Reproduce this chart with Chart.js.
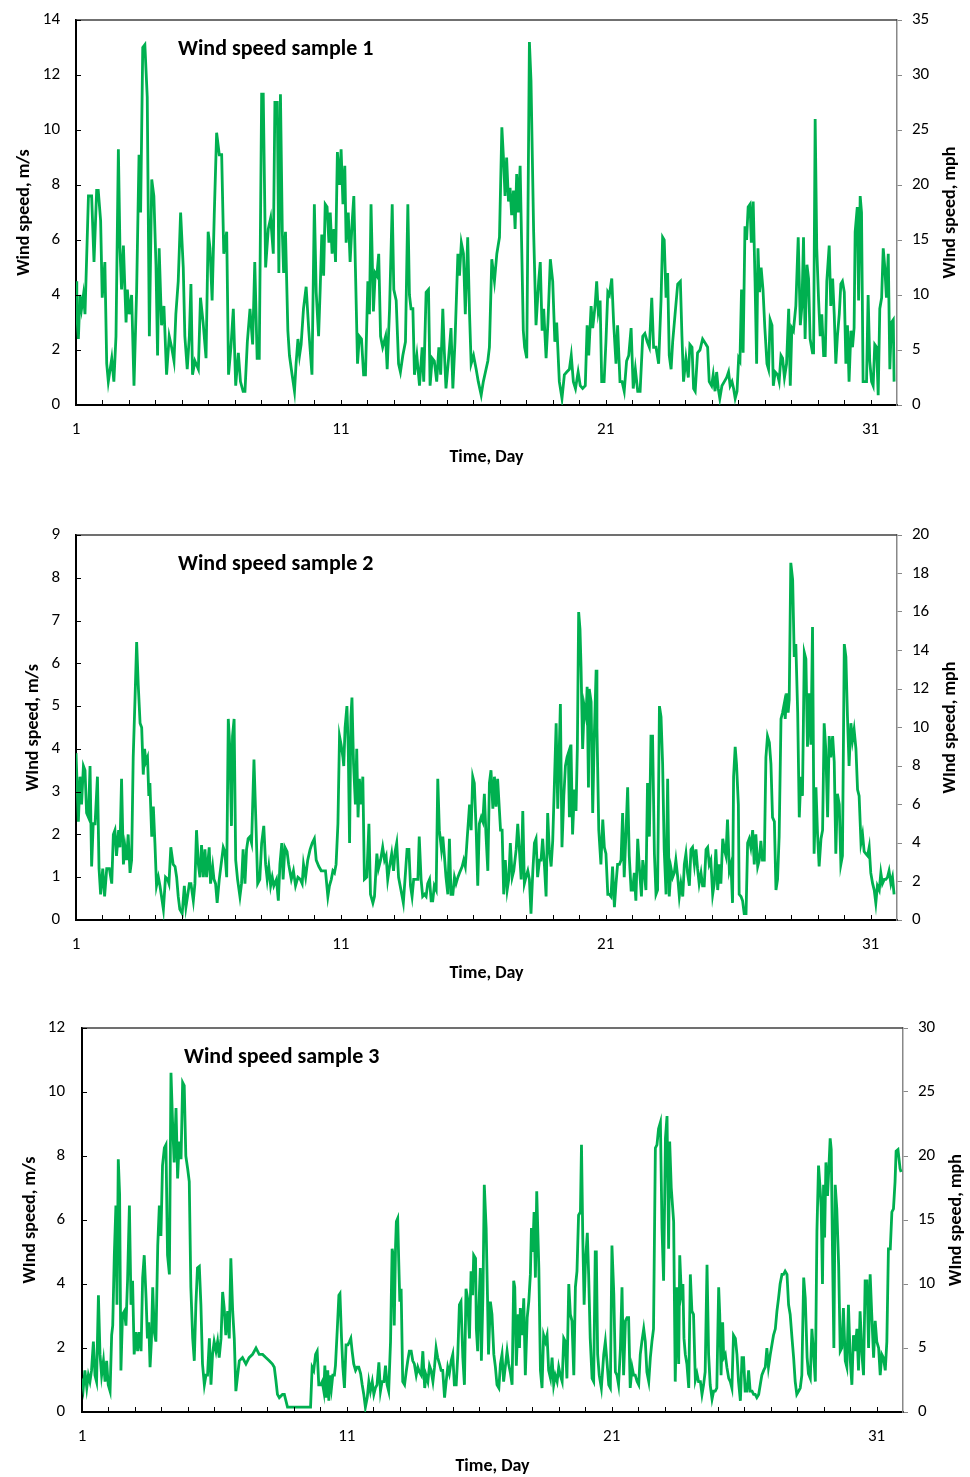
<!DOCTYPE html>
<html>
<head>
<meta charset="utf-8">
<script src="https://cdn.jsdelivr.net/npm/chart.js@4.4.1/dist/chart.umd.min.js"></script>
<style>
  body { margin: 0; background: #fff; width: 970px; height: 1477px; position: relative; overflow: hidden; }
  canvas { position: absolute; left: 0; }
</style>
</head>
<body>
<canvas id="c1" width="970" height="470" style="top:0px"></canvas>
<canvas id="c2" width="970" height="470" style="top:515px"></canvas>
<canvas id="c3" width="970" height="470" style="top:1007px"></canvas>
<script>
// labelled days on the time axis
const dayLabels = [1, 11, 21, 31];

// [day, wind speed m/s]
const sample1 = [[1.00,4.5],[1.03,3.3],[1.09,2.4],[1.15,4.0],[1.21,3.5],[1.28,4.0],[1.34,3.3],[1.47,7.6],[1.59,7.6],[1.68,5.2],[1.78,7.8],[1.84,7.8],[1.93,6.7],[1.99,3.9],[2.09,5.2],[2.16,1.5],[2.22,0.85],[2.35,1.7],[2.43,0.85],[2.51,2.5],[2.60,9.3],[2.66,5.7],[2.72,4.2],[2.79,5.8],[2.89,3.0],[2.94,4.2],[3.01,3.3],[3.10,4.0],[3.19,0.7],[3.29,4.2],[3.38,9.1],[3.44,7.0],[3.52,13.0],[3.60,13.1],[3.69,11.2],[3.77,2.5],[3.86,8.2],[3.94,7.6],[4.02,5.1],[4.08,1.8],[4.14,5.7],[4.23,2.9],[4.32,3.6],[4.42,1.1],[4.52,2.5],[4.61,2.1],[4.70,1.6],[4.77,3.3],[4.86,4.5],[4.95,7.0],[5.05,5.0],[5.11,2.5],[5.20,1.3],[5.28,2.5],[5.34,4.4],[5.40,1.1],[5.49,1.6],[5.62,1.3],[5.70,3.9],[5.80,3.0],[5.91,1.7],[5.99,6.3],[6.06,5.7],[6.14,3.8],[6.22,6.9],[6.31,9.9],[6.41,9.1],[6.50,9.1],[6.58,5.5],[6.69,6.3],[6.76,1.1],[6.85,2.1],[6.94,3.5],[7.03,0.7],[7.13,1.9],[7.21,0.85],[7.31,0.5],[7.38,0.5],[7.47,2.3],[7.57,3.5],[7.67,2.2],[7.75,5.2],[7.84,1.7],[7.92,1.7],[8.01,11.3],[8.07,11.3],[8.16,5.0],[8.26,6.4],[8.35,6.8],[8.45,5.5],[8.51,11.0],[8.60,11.0],[8.66,4.8],[8.72,11.3],[8.79,6.3],[8.84,4.8],[8.91,6.3],[9.00,2.7],[9.06,1.8],[9.16,1.1],[9.25,0.5],[9.31,1.5],[9.38,2.4],[9.44,1.8],[9.50,2.2],[9.59,3.5],[9.69,4.3],[9.79,2.7],[9.91,1.1],[10.00,7.3],[10.07,4.1],[10.16,2.5],[10.22,4.2],[10.28,6.2],[10.35,4.7],[10.41,7.3],[10.48,7.2],[10.55,5.9],[10.60,7.0],[10.67,5.5],[10.74,6.4],[10.80,5.2],[10.87,9.2],[10.95,8.0],[11.01,9.3],[11.08,7.3],[11.15,8.7],[11.20,5.9],[11.28,7.0],[11.35,5.2],[11.43,6.7],[11.49,7.6],[11.55,5.0],[11.63,1.5],[11.70,2.5],[11.78,2.4],[11.86,1.1],[11.93,1.1],[12.02,4.5],[12.08,3.3],[12.14,7.3],[12.23,3.4],[12.30,4.8],[12.36,4.7],[12.43,5.5],[12.50,2.5],[12.58,2.1],[12.69,2.5],[12.75,1.3],[12.84,3.5],[12.94,7.3],[13.00,4.2],[13.09,3.8],[13.18,1.5],[13.25,1.2],[13.34,1.8],[13.44,2.3],[13.53,7.3],[13.59,4.0],[13.65,3.5],[13.72,3.5],[13.78,1.1],[13.87,1.8],[13.97,0.7],[14.07,2.1],[14.13,0.85],[14.22,4.1],[14.31,4.2],[14.37,0.7],[14.45,1.7],[14.53,1.6],[14.62,0.85],[14.70,2.1],[14.77,1.1],[14.85,3.5],[14.91,1.9],[14.97,0.6],[15.06,1.6],[15.16,2.8],[15.23,0.6],[15.31,2.3],[15.42,5.5],[15.48,4.7],[15.55,5.9],[15.63,5.5],[15.70,3.3],[15.79,6.1],[15.86,3.3],[15.92,1.5],[16.01,1.8],[16.11,1.3],[16.19,0.85],[16.30,0.36],[16.38,0.85],[16.46,1.2],[16.55,1.6],[16.61,2.1],[16.70,5.3],[16.80,4.5],[16.89,5.5],[16.99,6.1],[17.08,10.1],[17.14,9.0],[17.20,7.6],[17.26,9.0],[17.33,7.4],[17.39,7.9],[17.45,6.9],[17.52,7.8],[17.58,6.4],[17.64,8.4],[17.70,7.0],[17.77,8.7],[17.83,5.7],[17.89,2.7],[17.94,2.1],[18.02,1.7],[18.12,13.2],[18.18,11.8],[18.28,6.3],[18.37,2.9],[18.47,4.5],[18.53,5.2],[18.60,2.7],[18.66,3.5],[18.75,1.7],[18.82,3.0],[18.91,5.3],[19.00,4.5],[19.08,2.3],[19.15,3.0],[19.25,0.85],[19.35,0.24],[19.44,1.1],[19.53,1.2],[19.63,1.3],[19.70,1.8],[19.78,0.85],[19.86,0.6],[19.96,1.2],[20.04,0.7],[20.13,0.6],[20.23,0.7],[20.30,2.9],[20.36,1.8],[20.45,3.6],[20.51,2.8],[20.60,3.6],[20.66,4.5],[20.72,3.4],[20.79,3.8],[20.85,0.85],[20.94,0.85],[21.01,2.3],[21.08,4.1],[21.14,4.0],[21.23,4.6],[21.30,3.0],[21.39,1.5],[21.45,2.9],[21.54,0.85],[21.62,0.85],[21.70,0.5],[21.79,1.6],[21.87,1.8],[21.96,2.8],[22.04,0.6],[22.12,1.3],[22.21,0.5],[22.30,0.5],[22.40,2.5],[22.48,2.6],[22.57,2.3],[22.65,2.1],[22.74,3.9],[22.81,2.1],[22.90,2.1],[23.00,1.5],[23.09,3.8],[23.15,6.1],[23.21,6.0],[23.28,3.9],[23.34,4.8],[23.40,1.8],[23.47,1.3],[23.53,2.3],[23.62,3.3],[23.72,4.4],[23.82,4.5],[23.88,2.5],[23.94,0.85],[24.03,1.7],[24.12,1.0],[24.18,2.2],[24.26,2.1],[24.32,0.6],[24.38,0.5],[24.47,1.9],[24.56,2.0],[24.66,2.4],[24.79,2.2],[24.85,2.1],[24.91,0.85],[25.00,0.7],[25.06,1.1],[25.13,0.5],[25.19,1.2],[25.25,0.6],[25.31,0.24],[25.39,0.7],[25.48,0.85],[25.57,1.0],[25.64,1.2],[25.70,0.7],[25.77,0.85],[25.83,0.6],[25.89,0.24],[25.96,0.5],[26.02,1.7],[26.07,1.6],[26.13,4.2],[26.19,1.9],[26.26,6.5],[26.32,6.0],[26.38,7.2],[26.45,7.3],[26.50,5.9],[26.57,7.4],[26.64,4.5],[26.70,1.5],[26.75,5.7],[26.81,4.1],[26.87,5.0],[26.94,4.2],[27.01,2.8],[27.09,1.5],[27.15,1.3],[27.21,3.1],[27.28,2.9],[27.33,0.7],[27.40,1.2],[27.49,1.1],[27.55,0.85],[27.62,1.8],[27.68,1.7],[27.75,1.0],[27.83,1.5],[27.91,3.5],[27.97,0.7],[28.03,2.8],[28.09,2.7],[28.18,3.6],[28.27,6.1],[28.35,2.9],[28.41,3.6],[28.47,6.1],[28.53,2.4],[28.60,5.1],[28.66,4.6],[28.72,2.4],[28.81,1.9],[28.85,1.9],[28.91,10.4],[28.97,5.7],[29.04,3.8],[29.10,2.5],[29.16,3.3],[29.23,1.8],[29.29,1.8],[29.35,4.5],[29.44,5.8],[29.50,3.6],[29.57,4.6],[29.63,3.3],[29.69,1.5],[29.75,2.5],[29.82,3.3],[29.88,4.4],[29.94,4.5],[30.01,4.1],[30.07,1.5],[30.13,2.9],[30.19,0.85],[30.26,2.7],[30.32,2.1],[30.38,2.8],[30.42,6.3],[30.50,7.2],[30.55,3.8],[30.61,7.6],[30.66,7.0],[30.72,0.85],[30.79,0.85],[30.85,0.85],[30.91,4.0],[30.97,1.6],[31.04,0.85],[31.10,0.7],[31.16,2.2],[31.23,2.1],[31.29,0.36],[31.35,3.5],[31.42,3.9],[31.48,5.7],[31.54,5.0],[31.60,3.9],[31.67,5.5],[31.73,1.3],[31.79,3.0],[31.86,3.1],[31.89,0.85]];

const sample2 = [[1.00,3.9],[1.09,2.3],[1.15,3.35],[1.21,2.7],[1.28,3.6],[1.34,3.5],[1.40,2.5],[1.47,2.4],[1.53,3.6],[1.59,1.25],[1.65,2.25],[1.72,2.25],[1.81,3.35],[1.87,1.2],[1.93,0.6],[2.01,1.2],[2.08,0.55],[2.16,1.2],[2.26,1.2],[2.35,0.85],[2.41,2.0],[2.47,2.1],[2.53,1.5],[2.61,2.1],[2.66,1.7],[2.72,3.3],[2.79,1.3],[2.85,1.7],[2.91,1.4],[2.97,2.0],[3.04,1.1],[3.10,1.4],[3.16,3.8],[3.23,5.2],[3.29,6.5],[3.35,5.5],[3.42,4.6],[3.48,4.5],[3.54,3.4],[3.59,4.0],[3.64,3.7],[3.70,3.8],[3.75,2.9],[3.79,3.2],[3.86,1.95],[3.92,2.65],[3.98,1.8],[4.04,0.8],[4.11,1.0],[4.17,0.8],[4.30,0.25],[4.38,1.0],[4.46,0.95],[4.51,0.85],[4.58,1.7],[4.67,1.3],[4.74,1.25],[4.80,1.0],[4.86,0.55],[4.92,0.25],[5.01,0.15],[5.09,0.8],[5.15,0.3],[5.21,0.55],[5.28,0.85],[5.34,0.85],[5.43,0.45],[5.49,0.85],[5.55,2.1],[5.62,1.3],[5.68,1.0],[5.74,1.75],[5.81,1.0],[5.87,1.65],[5.93,1.0],[6.03,1.7],[6.08,0.85],[6.16,1.25],[6.21,0.95],[6.27,0.85],[6.33,0.4],[6.41,0.95],[6.50,1.4],[6.56,1.7],[6.62,1.6],[6.69,1.0],[6.75,4.7],[6.81,4.0],[6.87,2.2],[6.91,4.3],[6.97,4.7],[7.03,1.4],[7.10,0.95],[7.19,0.55],[7.25,0.85],[7.31,1.65],[7.38,0.85],[7.44,1.65],[7.50,1.9],[7.57,1.95],[7.63,1.8],[7.72,3.75],[7.79,2.35],[7.86,0.85],[7.94,0.95],[8.01,1.8],[8.09,2.2],[8.16,1.3],[8.22,0.95],[8.28,1.25],[8.35,0.8],[8.41,1.0],[8.47,0.8],[8.57,0.95],[8.64,0.45],[8.70,1.3],[8.77,1.8],[8.82,0.95],[8.89,1.7],[8.97,1.6],[9.03,1.3],[9.13,0.95],[9.21,1.15],[9.29,0.8],[9.38,1.0],[9.47,0.95],[9.54,0.85],[9.59,1.3],[9.67,1.0],[9.75,1.4],[9.84,1.65],[9.92,1.8],[10.00,1.9],[10.07,1.4],[10.17,1.25],[10.26,1.15],[10.35,1.15],[10.42,1.15],[10.51,0.55],[10.57,0.8],[10.64,0.95],[10.70,1.15],[10.76,1.1],[10.82,1.3],[10.89,2.25],[10.95,4.3],[11.01,4.1],[11.08,3.8],[11.11,3.6],[11.16,4.5],[11.23,5.0],[11.28,4.0],[11.33,1.8],[11.38,4.75],[11.42,5.2],[11.48,3.65],[11.55,2.7],[11.60,4.0],[11.65,2.4],[11.70,3.3],[11.77,2.7],[11.83,3.35],[11.89,0.95],[11.98,1.0],[12.06,2.25],[12.12,0.6],[12.21,0.4],[12.27,0.55],[12.36,1.55],[12.42,1.2],[12.50,1.4],[12.58,1.7],[12.65,1.4],[12.71,1.5],[12.77,0.95],[12.84,1.25],[12.92,1.55],[12.99,1.15],[13.05,1.6],[13.11,1.8],[13.18,1.0],[13.24,0.8],[13.30,0.6],[13.36,0.4],[13.44,1.1],[13.50,1.65],[13.57,1.65],[13.63,0.8],[13.69,0.55],[13.75,0.95],[13.84,0.95],[13.91,0.95],[13.96,1.95],[14.03,0.95],[14.09,0.55],[14.16,0.6],[14.22,0.55],[14.28,0.85],[14.35,0.95],[14.41,0.45],[14.47,0.45],[14.53,0.8],[14.60,0.7],[14.66,3.3],[14.72,2.1],[14.80,1.65],[14.85,1.95],[14.91,1.5],[14.97,1.0],[15.04,0.6],[15.10,1.9],[15.16,0.6],[15.23,0.6],[15.29,1.0],[15.35,0.85],[15.42,1.0],[15.48,1.1],[15.58,1.25],[15.64,1.4],[15.70,1.25],[15.77,1.9],[15.86,2.7],[15.92,2.1],[15.98,3.35],[16.04,3.2],[16.11,2.1],[16.17,0.8],[16.23,2.25],[16.30,2.4],[16.36,2.3],[16.42,2.95],[16.48,2.0],[16.55,1.15],[16.61,3.2],[16.67,3.5],[16.74,2.6],[16.80,3.35],[16.86,2.65],[16.92,3.3],[17.03,2.1],[17.09,2.1],[17.15,0.6],[17.21,1.4],[17.28,0.7],[17.34,0.95],[17.40,1.8],[17.47,1.0],[17.53,1.15],[17.62,1.65],[17.68,2.25],[17.74,1.65],[17.81,0.95],[17.87,2.55],[17.93,0.85],[17.99,1.0],[18.06,1.15],[18.12,0.95],[18.18,0.15],[18.25,1.15],[18.31,1.8],[18.37,1.9],[18.43,1.0],[18.50,1.4],[18.56,1.4],[18.62,1.9],[18.69,1.25],[18.75,0.55],[18.81,2.5],[18.87,1.65],[18.94,1.25],[19.00,1.85],[19.06,3.1],[19.13,4.6],[19.19,2.6],[19.25,4.05],[19.29,5.05],[19.35,1.7],[19.42,2.9],[19.48,3.6],[19.54,3.8],[19.59,3.9],[19.63,2.4],[19.69,4.1],[19.75,2.0],[19.82,3.05],[19.88,2.55],[19.93,4.0],[19.98,7.2],[20.03,6.8],[20.07,5.9],[20.13,4.0],[20.19,5.0],[20.26,4.75],[20.30,5.45],[20.35,3.1],[20.38,5.4],[20.45,5.1],[20.51,2.5],[20.57,4.3],[20.64,5.85],[20.67,4.5],[20.74,2.1],[20.82,1.3],[20.89,2.35],[20.95,1.7],[21.01,1.55],[21.08,0.6],[21.14,0.6],[21.20,0.55],[21.26,1.25],[21.33,0.3],[21.39,0.85],[21.45,1.3],[21.52,1.3],[21.58,1.4],[21.64,2.5],[21.70,1.0],[21.77,2.1],[21.83,3.1],[21.89,1.5],[21.96,0.7],[22.02,0.7],[22.08,1.1],[22.14,0.45],[22.21,1.9],[22.27,1.25],[22.35,0.55],[22.40,1.4],[22.46,1.1],[22.52,0.7],[22.58,3.2],[22.65,1.95],[22.71,4.3],[22.77,4.3],[22.84,1.55],[22.90,0.6],[22.96,0.7],[23.03,5.0],[23.09,4.75],[23.15,3.65],[23.21,1.65],[23.28,0.6],[23.34,3.3],[23.40,0.55],[23.47,1.2],[23.53,1.0],[23.59,1.1],[23.65,1.4],[23.72,1.0],[23.78,0.55],[23.84,0.85],[23.91,0.55],[23.97,1.3],[24.03,1.55],[24.09,1.1],[24.16,0.8],[24.22,1.65],[24.28,1.7],[24.35,1.3],[24.41,1.65],[24.47,1.2],[24.53,0.85],[24.60,1.1],[24.66,0.8],[24.72,0.8],[24.79,1.65],[24.85,1.7],[24.91,1.3],[24.97,1.4],[25.04,0.6],[25.10,0.85],[25.16,1.65],[25.23,0.7],[25.29,1.3],[25.35,0.85],[25.42,1.9],[25.48,1.65],[25.54,1.5],[25.60,2.35],[25.67,1.15],[25.73,1.3],[25.79,0.4],[25.83,3.35],[25.89,4.05],[25.94,3.65],[26.01,2.7],[26.04,0.6],[26.11,0.55],[26.17,0.45],[26.23,0.15],[26.30,0.15],[26.36,1.8],[26.42,1.9],[26.48,1.7],[26.55,2.1],[26.61,1.3],[26.67,2.0],[26.74,1.25],[26.80,1.4],[26.86,1.85],[26.92,1.4],[26.99,1.4],[27.05,3.8],[27.11,4.3],[27.18,4.15],[27.24,3.65],[27.30,2.4],[27.37,2.3],[27.43,0.7],[27.49,0.95],[27.55,1.95],[27.62,4.7],[27.68,4.85],[27.74,5.05],[27.78,4.7],[27.83,5.3],[27.89,4.85],[27.93,5.15],[27.99,8.35],[28.06,7.95],[28.12,6.15],[28.18,6.45],[28.25,4.85],[28.31,2.4],[28.37,3.35],[28.43,2.9],[28.50,6.25],[28.56,6.1],[28.62,4.05],[28.69,5.3],[28.75,4.1],[28.81,6.85],[28.87,1.55],[28.94,3.1],[29.00,2.0],[29.06,1.25],[29.13,1.9],[29.19,2.1],[29.25,4.6],[29.31,4.0],[29.38,2.4],[29.44,4.3],[29.50,3.8],[29.57,4.3],[29.63,3.7],[29.69,1.55],[29.75,2.95],[29.82,2.7],[29.88,1.3],[29.94,1.5],[30.01,6.45],[30.07,6.15],[30.13,4.75],[30.19,3.6],[30.26,4.6],[30.32,4.2],[30.38,4.45],[30.45,4.0],[30.51,3.05],[30.57,2.9],[30.64,1.8],[30.70,2.0],[30.76,1.6],[30.82,1.55],[30.89,1.5],[30.95,1.7],[31.01,1.1],[31.08,0.85],[31.14,0.7],[31.20,0.4],[31.26,0.8],[31.33,0.7],[31.39,1.1],[31.45,0.85],[31.52,0.95],[31.58,0.95],[31.64,1.0],[31.70,1.15],[31.77,0.85],[31.83,1.0],[31.89,0.6]];

const sample3 = [[1.00,1.05],[1.05,0.75],[1.11,1.3],[1.18,0.75],[1.24,1.15],[1.30,0.95],[1.36,1.3],[1.43,2.2],[1.49,1.15],[1.55,0.95],[1.62,3.65],[1.68,1.8],[1.74,1.15],[1.81,1.6],[1.87,0.95],[1.93,1.6],[1.99,0.85],[2.06,0.65],[2.12,2.4],[2.16,2.7],[2.22,4.9],[2.28,6.45],[2.32,3.35],[2.37,7.9],[2.42,6.8],[2.47,1.3],[2.53,3.05],[2.60,3.15],[2.66,2.7],[2.72,4.1],[2.79,6.45],[2.85,3.35],[2.91,4.1],[2.97,1.8],[3.04,2.5],[3.10,1.9],[3.16,2.5],[3.23,1.9],[3.29,4.2],[3.35,4.9],[3.42,3.55],[3.47,2.3],[3.52,2.8],[3.57,1.4],[3.62,2.2],[3.67,3.9],[3.73,2.5],[3.79,2.2],[3.86,5.2],[3.92,6.45],[3.98,5.5],[4.04,7.7],[4.11,8.25],[4.17,8.35],[4.23,4.9],[4.30,4.3],[4.36,10.6],[4.42,9.05],[4.48,7.8],[4.55,9.5],[4.61,7.3],[4.67,8.45],[4.74,7.9],[4.80,10.3],[4.86,10.2],[4.92,8.0],[4.99,7.6],[5.05,7.2],[5.11,3.9],[5.18,2.3],[5.24,1.6],[5.30,3.35],[5.36,4.5],[5.43,4.55],[5.49,3.35],[5.55,1.5],[5.62,0.85],[5.68,1.15],[5.74,1.15],[5.81,2.3],[5.87,0.85],[5.93,1.8],[5.99,2.2],[6.06,1.9],[6.12,2.2],[6.18,1.7],[6.25,2.3],[6.31,3.75],[6.37,3.25],[6.43,2.4],[6.50,3.15],[6.56,2.3],[6.62,4.8],[6.69,3.15],[6.75,2.3],[6.81,0.65],[6.87,1.1],[6.94,1.6],[7.06,1.7],[7.19,1.5],[7.31,1.7],[7.44,1.8],[7.57,2.0],[7.69,1.8],[7.82,1.8],[7.94,1.7],[8.07,1.6],[8.19,1.5],[8.26,1.4],[8.32,1.0],[8.38,0.55],[8.45,0.45],[8.57,0.55],[8.64,0.55],[8.76,0.15],[9.63,0.15],[9.69,1.4],[9.75,1.3],[9.82,1.8],[9.88,1.9],[9.94,0.85],[10.01,0.85],[10.07,0.95],[10.13,0.65],[10.17,1.45],[10.22,0.45],[10.28,1.3],[10.32,0.35],[10.37,1.15],[10.42,0.75],[10.47,1.15],[10.53,1.15],[10.57,1.45],[10.64,2.6],[10.70,3.65],[10.74,3.7],[10.80,2.3],[10.85,1.4],[10.91,0.75],[10.97,2.1],[11.04,2.1],[11.10,2.2],[11.15,2.3],[11.20,1.9],[11.26,1.5],[11.33,1.3],[11.39,1.4],[11.45,1.4],[11.52,1.2],[11.58,0.85],[11.64,0.55],[11.70,0.15],[11.77,0.45],[11.83,0.95],[11.89,0.65],[11.96,0.95],[12.02,0.55],[12.08,0.75],[12.14,0.85],[12.21,1.55],[12.27,0.65],[12.33,0.95],[12.40,0.95],[12.46,1.45],[12.52,0.85],[12.58,0.65],[12.65,2.2],[12.71,5.1],[12.75,4.9],[12.79,2.7],[12.84,5.2],[12.87,5.95],[12.92,6.05],[12.96,4.7],[13.00,3.45],[13.05,3.85],[13.11,0.95],[13.18,0.85],[13.24,1.25],[13.30,1.6],[13.36,1.9],[13.43,1.9],[13.49,1.6],[13.55,1.5],[13.62,1.15],[13.68,1.4],[13.74,1.25],[13.81,1.15],[13.87,1.9],[13.94,0.75],[13.99,1.15],[14.06,0.95],[14.12,1.45],[14.18,1.3],[14.25,0.95],[14.31,1.4],[14.37,2.0],[14.43,1.7],[14.50,1.5],[14.56,1.3],[14.62,1.3],[14.69,0.45],[14.75,0.95],[14.81,1.4],[14.87,1.2],[14.94,1.6],[15.00,1.8],[15.06,0.85],[15.13,0.85],[15.19,1.8],[15.25,3.35],[15.31,3.45],[15.38,1.7],[15.44,0.85],[15.50,3.85],[15.56,3.55],[15.63,2.3],[15.69,4.4],[15.75,3.65],[15.79,4.9],[15.86,4.8],[15.89,2.6],[15.94,1.9],[15.98,3.15],[16.04,4.5],[16.08,1.6],[16.14,3.7],[16.19,7.1],[16.26,5.75],[16.31,3.65],[16.35,1.8],[16.42,3.45],[16.48,3.05],[16.55,1.8],[16.61,1.4],[16.67,0.85],[16.74,0.75],[16.80,1.5],[16.86,1.8],[16.92,0.95],[17.05,1.9],[17.11,1.5],[17.18,1.2],[17.24,0.85],[17.30,4.1],[17.34,3.9],[17.40,1.45],[17.47,3.05],[17.52,2.0],[17.55,3.25],[17.62,2.4],[17.68,3.55],[17.74,1.15],[17.81,2.95],[17.87,3.45],[17.93,4.3],[17.97,5.75],[18.02,5.0],[18.07,6.25],[18.12,4.2],[18.17,6.9],[18.25,4.5],[18.31,1.3],[18.37,0.75],[18.43,2.4],[18.50,2.2],[18.56,2.4],[18.62,1.3],[18.69,1.05],[18.75,1.7],[18.81,0.85],[18.87,1.15],[18.94,0.95],[19.00,1.4],[19.06,1.15],[19.13,0.95],[19.19,2.3],[19.25,2.2],[19.31,1.05],[19.38,4.0],[19.44,3.05],[19.50,2.85],[19.57,1.15],[19.63,3.9],[19.69,4.4],[19.75,6.15],[19.82,6.25],[19.86,8.35],[19.91,5.4],[19.96,3.35],[20.01,4.7],[20.08,5.6],[20.13,4.3],[20.19,2.3],[20.26,1.05],[20.32,0.95],[20.38,5.0],[20.42,5.0],[20.47,1.8],[20.53,1.15],[20.61,0.75],[20.70,1.8],[20.76,2.2],[20.82,1.6],[20.89,0.85],[20.95,0.75],[21.01,5.2],[21.08,3.7],[21.14,1.25],[21.20,1.15],[21.26,0.85],[21.33,2.0],[21.39,3.9],[21.45,1.15],[21.52,2.85],[21.58,2.95],[21.64,2.95],[21.70,0.75],[21.77,1.4],[21.83,1.15],[21.89,1.15],[21.96,0.95],[22.02,0.85],[22.08,1.8],[22.14,2.2],[22.21,2.6],[22.27,2.2],[22.33,1.25],[22.40,0.95],[22.46,1.7],[22.52,2.2],[22.58,2.6],[22.65,8.25],[22.71,8.35],[22.77,8.85],[22.84,9.05],[22.90,5.75],[22.96,4.1],[23.03,8.55],[23.09,9.25],[23.15,5.1],[23.19,8.45],[23.25,7.0],[23.34,5.95],[23.40,0.95],[23.47,3.9],[23.53,1.5],[23.57,4.9],[23.63,3.7],[23.69,4.0],[23.73,2.3],[23.78,1.8],[23.84,1.5],[23.91,0.75],[23.97,4.3],[24.03,3.15],[24.09,3.05],[24.16,1.0],[24.22,1.2],[24.28,0.95],[24.35,0.95],[24.41,0.55],[24.47,0.85],[24.53,1.25],[24.60,4.6],[24.66,1.8],[24.72,0.85],[24.79,0.4],[24.85,0.65],[24.91,0.65],[24.97,0.75],[25.04,3.9],[25.08,3.05],[25.13,1.15],[25.19,2.8],[25.23,1.7],[25.29,1.8],[25.35,1.4],[25.42,1.05],[25.48,0.95],[25.54,0.75],[25.60,2.4],[25.67,2.3],[25.73,1.8],[25.79,0.95],[25.86,0.35],[25.92,1.7],[25.98,1.7],[26.04,0.65],[26.11,0.65],[26.17,1.3],[26.23,0.65],[26.30,0.65],[26.36,0.55],[26.42,0.55],[26.48,0.45],[26.55,0.55],[26.61,0.85],[26.67,1.15],[26.74,1.3],[26.80,1.4],[26.86,2.0],[26.92,1.4],[26.99,1.8],[27.05,2.1],[27.11,2.4],[27.18,2.6],[27.24,3.15],[27.30,3.55],[27.36,4.0],[27.43,4.3],[27.49,4.3],[27.55,4.4],[27.62,4.3],[27.68,3.35],[27.74,3.05],[27.81,2.3],[27.87,1.7],[27.93,0.95],[27.99,0.55],[28.06,0.65],[28.12,0.75],[28.18,1.15],[28.25,4.2],[28.31,3.55],[28.38,1.7],[28.43,1.2],[28.50,1.05],[28.56,2.6],[28.62,1.9],[28.69,0.95],[28.75,5.65],[28.81,7.7],[28.87,7.0],[28.91,6.4],[28.96,4.0],[29.00,7.1],[29.04,5.45],[29.09,7.8],[29.15,6.75],[29.21,7.8],[29.25,8.55],[29.29,8.2],[29.34,4.9],[29.39,2.0],[29.44,7.1],[29.50,6.35],[29.57,4.6],[29.63,1.9],[29.69,2.0],[29.75,3.25],[29.82,1.6],[29.88,1.4],[29.94,3.35],[30.01,1.6],[30.07,0.85],[30.13,2.4],[30.19,1.9],[30.26,2.6],[30.32,1.3],[30.38,3.15],[30.45,1.8],[30.51,1.15],[30.57,4.1],[30.64,4.1],[30.70,2.0],[30.76,4.3],[30.82,3.05],[30.89,1.7],[30.95,2.85],[31.01,2.2],[31.08,2.0],[31.14,1.15],[31.20,1.8],[31.26,1.7],[31.33,1.3],[31.39,2.2],[31.45,5.1],[31.52,5.1],[31.58,6.25],[31.64,6.35],[31.70,7.2],[31.74,8.15],[31.81,8.2],[31.89,7.6],[31.93,7.5]];

const FONT = "Carlito, Lato, 'Open Sans', sans-serif";
Chart.defaults.font.family = FONT;
const GREEN = '#00B050';

// extra axis marks, panel title and right-hand axis title
const decor = {
  id: 'decor',
  afterDraw(chart, args, o) {
    const {ctx, chartArea: a, scales: {x, y}} = chart;
    ctx.save();
    ctx.strokeStyle = '#404040';
    ctx.lineWidth = 1.5;
    ctx.beginPath();
    ctx.moveTo(a.left, a.top);
    ctx.lineTo(a.right, a.top);
    ctx.stroke();

    ctx.strokeStyle = '#000';
    ctx.lineWidth = 1;
    ctx.beginPath();
    for (let d = 2; d <= 31; d++) {
      const px = Math.round(x.getPixelForValue(d)) + 0.5;
      ctx.moveTo(px, a.bottom);
      ctx.lineTo(px, a.bottom - 5);
    }
    y.ticks.forEach(t => {
      const py = Math.round(y.getPixelForValue(t.value)) + 0.5;
      ctx.moveTo(a.left, py);
      ctx.lineTo(a.left + 5, py);
    });
    ctx.stroke();

    ctx.fillStyle = '#000';
    ctx.font = 'bold 22px ' + FONT;
    ctx.textBaseline = 'middle';
    ctx.textAlign = 'left';
    ctx.fillText(o.title, a.left + 102, a.top + 29);

    ctx.font = 'bold 18px ' + FONT;
    ctx.textAlign = 'center';
    ctx.translate(o.rightTitleX, (a.top + a.bottom) / 2);
    ctx.rotate(-Math.PI / 2);
    ctx.fillText(o.rightTitle, 0, 0);
    ctx.restore();
  }
};

// fixed axis box sizes so the plot area sits where the picture has it
function fixWidth(w) {
  return s => { s.width = w; s.paddingTop = 0; s.paddingBottom = 0; };
}

function makeChart(id, pts, p) {
  const tickFont = {size: 17};
  const titleFont = {size: 18, weight: 'bold'};
  return new Chart(document.getElementById(id), {
    type: 'line',
    data: {
      datasets: [{
        data: pts.map(d => ({x: d[0], y: d[1]})),
        borderColor: GREEN,
        borderWidth: 2.8,
        pointRadius: 0,
        tension: 0,
        yAxisID: 'y'
      }]
    },
    options: {
      responsive: false,
      animation: false,
      devicePixelRatio: 1,
      layout: { padding: { top: p.top } },
      plugins: {
        legend: { display: false },
        tooltip: { enabled: false },
        decor: { title: p.title, rightTitle: p.rightTitle, rightTitleX: p.rightTitleX }
      },
      scales: {
        x: {
          type: 'linear', min: 1, max: 32,
          afterFit: s => { s.height = 65; },
          grid: { display: false, drawTicks: false },
          border: { color: '#000', width: 2 },
          ticks: {
            stepSize: 1, autoSkip: false, maxRotation: 0, padding: 15, color: '#000', font: tickFont,
            callback: v => dayLabels.includes(v) ? String(v) : ''
          },
          title: { display: true, text: 'Time, Day', color: '#000', font: titleFont, padding: { top: 0, bottom: p.xTitlePad } }
        },
        y: {
          position: 'left', min: 0, max: p.yMax,
          afterFit: fixWidth(p.left),
          grid: { display: false, drawTicks: false },
          border: { color: '#000', width: 2 },
          ticks: { stepSize: p.yStep, padding: p.yPad, color: '#000', font: tickFont },
          title: { display: true, text: p.leftTitle, color: '#000', font: titleFont, padding: { top: p.leftTitlePad, bottom: 0 } }
        },
        y2: {
          position: 'right', min: 0, max: p.y2Max,
          afterFit: fixWidth(p.right),
          grid: { display: true, drawOnChartArea: false, drawTicks: true, tickLength: 5, color: '#888' },
          border: { color: '#888', width: 1.5 },
          ticks: { stepSize: p.y2Step, padding: 10, color: '#000', font: tickFont }
        }
      }
    },
    plugins: [decor]
  });
}

makeChart('c1', sample1, {
  top: 20, left: 76, right: 73, yMax: 14, yStep: 2, y2Max: 35, y2Step: 5, yPad: 16,
  title: 'Wind speed sample 1', leftTitle: 'Wind speed, m/s', rightTitle: 'WInd speed, mph',
  leftTitlePad: 14, xTitlePad: 2, rightTitleX: 950
});
makeChart('c2', sample2, {
  top: 20, left: 76, right: 73, yMax: 9, yStep: 1, y2Max: 20, y2Step: 2, yPad: 16,
  title: 'Wind speed sample 2', leftTitle: 'WInd speed, m/s', rightTitle: 'WInd speed, mph',
  leftTitlePad: 23, xTitlePad: 1, rightTitleX: 950
});
makeChart('c3', sample3, {
  top: 21, left: 82, right: 67, yMax: 12, yStep: 2, y2Max: 30, y2Step: 5, yPad: 17,
  title: 'Wind speed sample 3', leftTitle: 'WInd speed, m/s', rightTitle: 'WInd speed, mph',
  leftTitlePad: 20, xTitlePad: 0, rightTitleX: 956
});
</script>
</body>
</html>
